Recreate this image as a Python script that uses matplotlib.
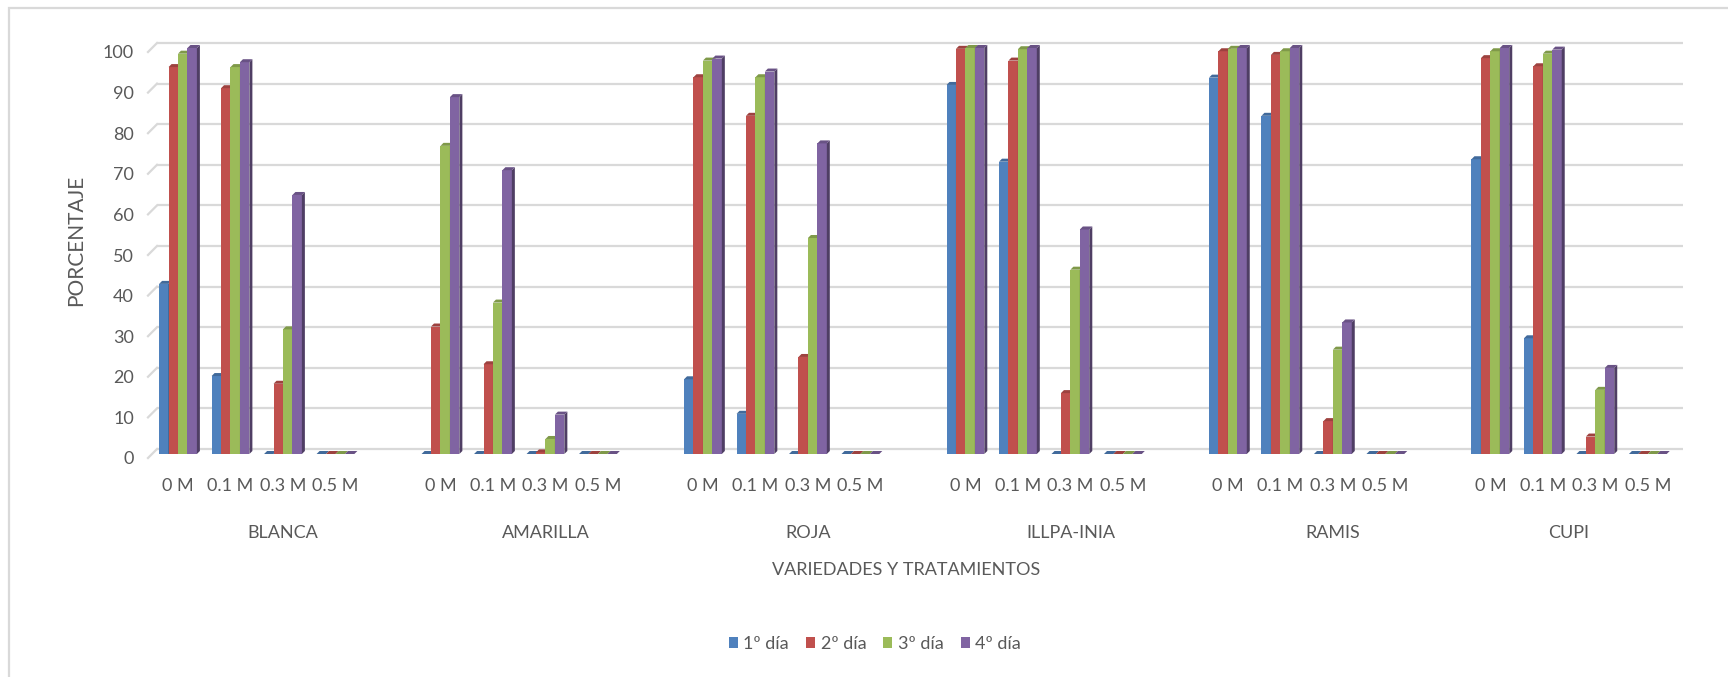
import matplotlib.pyplot as plt
from matplotlib.patches import Polygon, Rectangle
from matplotlib.transforms import ScaledTranslation, blended_transform_factory
from matplotlib.colors import to_rgb

variedades = ["BLANCA", "AMARILLA", "ROJA", "ILLPA-INIA", "RAMIS", "CUPI"]
tratamientos = ["0 M", "0.1 M", "0.3 M", "0.5 M"]
dias = ["1º día", "2º día", "3º día", "4º día"]

# porcentaje por variedad y tratamiento (0, 0.1, 0.3, 0.5 M), un arreglo por día
dia1 = [41.9, 19.2, 0, 0,   0, 0, 0, 0,        18.4, 9.9, 0, 0,
        90.9, 72.0, 0, 0,   92.7, 83.3, 0, 0,  72.6, 28.5, 0, 0]
dia2 = [95.3, 90.1, 17.3, 0,  31.4, 22.1, 0.4, 0,  92.8, 83.3, 23.9, 0,
        99.8, 96.9, 15.0, 0,  99.2, 98.3, 8.1, 0,  97.5, 95.5, 4.3, 0]
dia3 = [98.6, 95.3, 30.7, 0,  75.9, 37.3, 3.7, 0,  96.9, 92.8, 53.2, 0,
        100, 99.7, 45.4, 0,   99.8, 99.2, 25.7, 0, 99.2, 98.6, 15.8, 0]
dia4 = [100, 96.5, 63.8, 0,   87.9, 69.9, 9.7, 0,  97.4, 94.2, 76.5, 0,
        100, 100, 55.3, 0,    100, 100, 32.4, 0,   100, 99.6, 21.2, 0]
series = [dia1, dia2, dia3, dia4]
colores = ["#4F81BD", "#C0504D", "#9BBB59", "#8064A2"]

gris = "#595959"
plt.rcParams["font.family"] = ["Lato", "DejaVu Sans"]

fig = plt.figure(figsize=(17.28, 6.77), dpi=100)
W, H = 1728, 677
ax = fig.add_axes([157 / W, (H - 454) / H, (1683 - 157) / W, 406 / H])
ax.set_xlim(-0.4, 28.67)
ax.set_ylim(0, 100)

# una ranura vacia entre variedades
pos = []
for g in range(len(variedades)):
    for j in range(len(tratamientos)):
        pos.append(g * 5 + j)
n_slots = pos[-1] + 1

# tamaño de un pixel en unidades de datos (para el efecto 3D)
xmin, xmax = ax.get_xlim()
px = (xmax - xmin) / (1683 - 157)
py = 100 / 406
prof = 3  # profundidad en pixeles

# cuadricula en la pared del fondo, algo por encima del piso de las barras
ticks = list(range(0, 101, 10))
for t in ticks:
    yb = t + 5 * py
    ax.plot([xmin, xmax], [yb, yb], color="#d9d9d9", lw=1.6, zorder=0,
            clip_on=False, solid_capstyle="butt")
    ax.plot([xmin - 9 * px, xmin], [yb - 9 * py, yb], color="#d9d9d9",
            lw=1.6, zorder=0, clip_on=False)

w = 0.18
for k, (vals, c) in enumerate(zip(series, colores)):
    xs = [p + (k - 1.5) * w for p in pos]
    bars = ax.bar(xs, vals, width=w, color=c, label=dias[k],
                  zorder=3 + 2 * k, linewidth=0, clip_on=False)
    rgb = to_rgb(c)
    lado = tuple(v * 0.62 for v in rgb)
    tapa = tuple(v * 0.82 for v in rgb)
    for b, h in zip(bars, vals):
        x0 = b.get_x()
        x1 = x0 + w
        dx, dy = prof * px, prof * py
        ax.add_patch(Polygon([(x1, 0), (x1 + dx, dy), (x1 + dx, h + dy), (x1, h)],
                             closed=True, fc=lado, ec="none", zorder=4 + 2 * k,
                             clip_on=False))
        ax.add_patch(Polygon([(x0, h), (x1, h), (x1 + dx, h + dy), (x0 + dx, h + dy)],
                             closed=True, fc=tapa, ec="none", zorder=4 + 2 * k,
                             clip_on=False))

for s in ax.spines.values():
    s.set_visible(False)

ax.set_yticks(ticks)
ax.set_yticklabels([str(t) for t in ticks], fontsize=13, color=gris)
ax.tick_params(axis="y", length=0, pad=16.5)
for lab in ax.get_yticklabels():
    lab.set_transform(lab.get_transform() + ScaledTranslation(0, -0.04, fig.dpi_scale_trans))

ax.set_xticks(pos)
ax.set_xticklabels(tratamientos * len(variedades), fontsize=13, color=gris)
ax.tick_params(axis="x", length=0, pad=17)

ax.set_ylabel("PORCENTAJE", fontsize=15, color=gris)
ax.yaxis.set_label_coords((86 - 157) / (1683 - 157), (454 - 240) / 406)

trans = blended_transform_factory(ax.transData, ax.transAxes)
for g, nombre in enumerate(variedades):
    ini = g * 5
    fin = min(ini + 4, n_slots - 1)
    ax.text((ini + fin) / 2, (454 - 533) / 406, nombre, transform=trans,
            ha="center", va="center", fontsize=13, color=gris)

fig.text(906 / W, 1 - 570 / H, "VARIEDADES Y TRATAMIENTOS", ha="center",
         va="center", fontsize=13, color=gris)

leg = fig.legend(loc="center", bbox_to_anchor=(875 / W, 1 - 644 / H), ncol=4,
                 frameon=False, fontsize=13, handlelength=0.5, handleheight=0.6,
                 handletextpad=0.3, columnspacing=0.95)
for t in leg.get_texts():
    t.set_color(gris)

# marco del area del grafico
fig.add_artist(Rectangle((9 / W, -0.1), 1.2, 1.1 - 8 / H, transform=fig.transFigure,
                         fill=False, ec="#d9d9d9", lw=1.6))

fig.savefig("out.png", dpi=100, facecolor="white")
